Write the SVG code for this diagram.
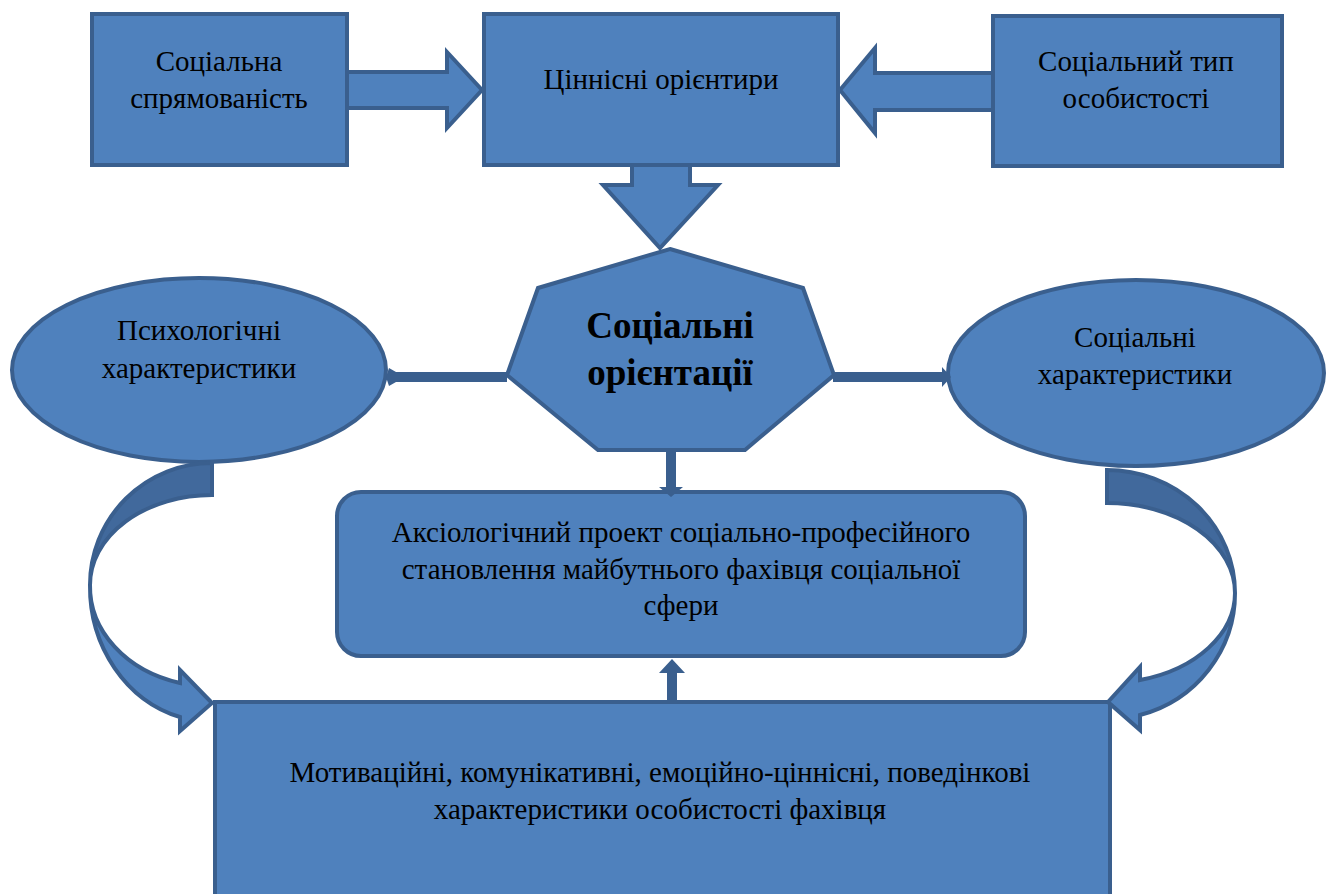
<svg xmlns="http://www.w3.org/2000/svg" width="1332" height="894" viewBox="0 0 1332 894">
<style>
.s{fill:#4F81BD;stroke:#3A5F8E;stroke-width:4;stroke-linejoin:miter}
.d{fill:#41699C;stroke:#3A5F8E;stroke-width:4}
.t{font-family:"Liberation Serif","Times New Roman",serif;font-size:29px;fill:#000;text-anchor:middle}
.b{font-family:"Liberation Serif","Times New Roman",serif;font-size:37px;font-weight:bold;fill:#000;text-anchor:middle}
.c{fill:#3A5F8E;stroke:none}
</style>
<rect width="1332" height="894" fill="#fff"/>
<g id="n1"><rect class="s" x="92" y="14" width="255" height="151"/><text class="t" x="219" y="71">Соціальна</text><text class="t" x="219" y="108">спрямованість</text></g>
<g id="n2"><rect class="s" x="484" y="14" width="354" height="151"/><text class="t" x="661" y="89">Ціннісні орієнтири</text></g>
<g id="n3"><rect class="s" x="993" y="16" width="289" height="150"/><text class="t" x="1136" y="71">Соціальний тип</text><text class="t" x="1136" y="108">особистості</text></g>
<g id="n4"><polygon class="s" points="670,249 803,288 834,375 745,450 598,450 507,375 538,288"/><text class="b" x="670" y="338">Соціальні</text><text class="b" x="670" y="385">орієнтації</text></g>
<g id="n5"><ellipse class="s" cx="199" cy="370" rx="187" ry="92"/><text class="t" x="199" y="340">Психологічні</text><text class="t" x="199" y="378">характеристики</text></g>
<g id="n6"><ellipse class="s" cx="1136" cy="373" rx="188" ry="93"/><text class="t" x="1135" y="347">Соціальні</text><text class="t" x="1135" y="384">характеристики</text></g>
<g id="n7"><rect class="s" x="337" y="492" width="688" height="164" rx="24"/><text class="t" x="681" y="542">Аксіологічний проект соціально-професійного</text><text class="t" x="681" y="579">становлення майбутнього фахівця соціальної</text><text class="t" x="681" y="615">сфери</text></g>
<g id="n8"><rect class="s" x="215" y="702" width="895" height="200"/><text class="t" x="660" y="782">Мотиваційні, комунікативні, емоційно-ціннісні, поведінкові</text><text class="t" x="660" y="819">характеристики особистості фахівця</text></g>
<g id="connectors">
<polygon class="s" points="347,72 447,72 447,52 482,90 447,128 447,108 347,108"/>
<polygon class="s" points="993,73 875,73 875,48 840,90 875,133 875,110 993,110"/>
<polygon class="s" points="632,165 690,165 690,185 718,185 660,248 603,185 632,185"/>
<path class="c" d="M507,372 L396,372 L389,368 L386,377 L389,386 L396,382 L507,382 Z"/>
<path class="c" d="M833,372 L942,372 L942,367 L951,377 L942,387 L942,382 L833,382 Z"/>
<path class="c" d="M666,452 L676,452 L676,487 L683,487 L671,497 L659,487 L666,487 Z"/>
<path class="c" d="M667,703 L677,703 L677,673 L685,673 L672,659 L659,673 L667,673 Z"/>
<path class="d" d="M212,463 L212,495 A122,90 0 0 0 90,585 A122,122 0 0 1 212,463 Z"/>
<path class="s" d="M90,585 A122,135 0 0 0 180,717 L180,731 L212,703 L180,670 L180,683 A122,100 0 0 1 90,585 Z"/>
<path class="d" d="M1107,470 L1107,503 A128,90 0 0 1 1235,593 A128,123 0 0 0 1107,470 Z"/>
<path class="s" d="M1235,593 A128,126 0 0 1 1140,715 L1140,730 L1108,702 L1140,667 L1140,680 A128,90 0 0 0 1235,593 Z"/>
</g>
</svg>
